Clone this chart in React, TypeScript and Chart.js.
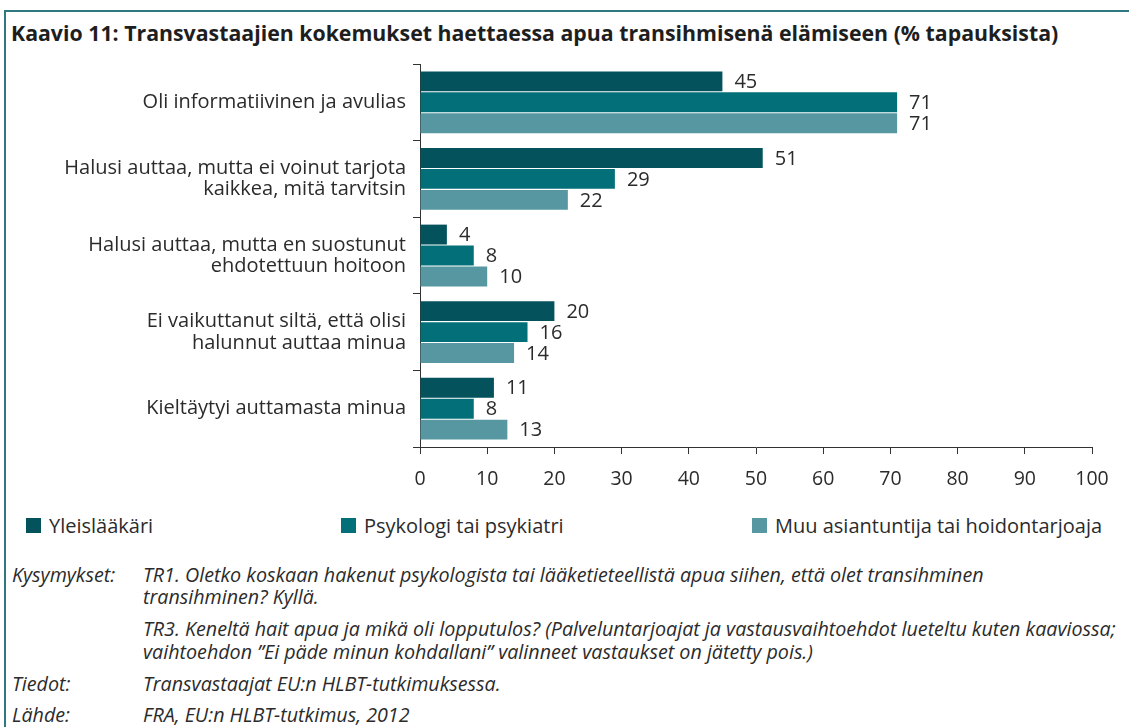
import React, { useEffect, useRef } from "react";
import { Chart, registerables } from "chart.js";

Chart.register(...registerables);

const categories: (string | string[])[] = [
  "Oli informatiivinen ja avulias",
  ["Halusi auttaa, mutta ei voinut tarjota", "kaikkea, mitä tarvitsin"],
  ["Halusi auttaa, mutta en suostunut", "ehdotettuun hoitoon"],
  ["Ei vaikuttanut siltä, että olisi", "halunnut auttaa minua"],
  "Kieltäytyi auttamasta minua",
];
const seriesNames = ["Yleislääkäri", "Psykologi tai psykiatri", "Muu asiantuntija tai hoidontarjoaja"];
const yleislaakari = [45, 51, 4, 20, 11];
const psykologi = [71, 29, 8, 16, 8];
const muu = [71, 22, 10, 14, 13];
const xTicks = [0, 10, 20, 30, 40, 50, 60, 70, 80, 90, 100];
const colors = ["#03525c", "#037079", "#5697a1"];

const title = "Kaavio 11: Transvastaajien kokemukset haettaessa apua transihmisenä elämiseen (% tapauksista)";

const FONT = "'Open Sans', 'Noto Sans', sans-serif";
const TEXT = "#2b2b2b";

const valueLabels = {
  id: "valueLabels",
  afterDatasetsDraw(chart: any) {
    const ctx = chart.ctx;
    ctx.save();
    ctx.font = `20px ${FONT}`;
    ctx.fillStyle = TEXT;
    ctx.textAlign = "left";
    ctx.textBaseline = "middle";
    chart.data.datasets.forEach((ds: any, i: number) => {
      const meta = chart.getDatasetMeta(i);
      meta.data.forEach((bar: any, j: number) => {
        ctx.fillText(String(ds.data[j]), bar.x + 12, bar.y + 1);
      });
    });
    ctx.restore();
  },
};

export default function App() {
  const ref = useRef<HTMLCanvasElement | null>(null);
  useEffect(() => {
    if (!ref.current) return;
    const data = [yleislaakari, psykologi, muu];
    const chart = new Chart(ref.current, {
      type: "bar",
      data: {
        labels: categories,
        datasets: seriesNames.map((name, i) => ({
          label: name,
          data: data[i],
          backgroundColor: colors[i],
          borderWidth: 0,
          barPercentage: 0.95,
          categoryPercentage: 0.82,
        })),
      },
      options: {
        indexAxis: "y",
        responsive: false,
        animation: false,
        devicePixelRatio: 1,
        layout: { padding: { left: 0, top: 64, right: 37, bottom: 0 } },
        plugins: { legend: { display: false }, tooltip: { enabled: false }, title: { display: false } },
        scales: {
          x: {
            min: 0,
            max: 100,
            afterFit: (s: any) => { s.height = 53; },
            afterBuildTicks: (s: any) => { s.ticks = xTicks.map((v) => ({ value: v })); },
            grid: { drawOnChartArea: false, drawTicks: true, tickLength: 7, color: "#333", lineWidth: 1 },
            border: { display: true, color: "#333", width: 1 },
            ticks: { color: TEXT, font: { family: FONT, size: 19.5 }, padding: 14, maxRotation: 0, autoSkip: false },
          },
          y: {
            afterFit: (s: any) => { s.width = 420; },
            grid: { drawOnChartArea: false, drawTicks: true, tickLength: 7, color: "#333", lineWidth: 1, offset: true },
            border: { display: true, color: "#333", width: 1 },
            ticks: { color: TEXT, font: { family: FONT, size: 20, lineHeight: 1.07 }, padding: 7, autoSkip: false },
          },
        },
      },
      plugins: [valueLabels],
    } as any);
    return () => chart.destroy();
  }, []);

  const legendX = [26, 341, 752];
  const noteStyle: React.CSSProperties = {
    position: "absolute",
    fontFamily: FONT,
    fontStyle: "italic",
    fontSize: 19.7,
    color: TEXT,
    whiteSpace: "nowrap",
    lineHeight: "22px",
  };
  const notes: [number, string, string][] = [
    [575, "Kysymykset:", "TR1. Oletko koskaan hakenut psykologista tai lääketieteellistä apua siihen, että olet transihminen"],
    [597, "", "transihminen? Kyllä."],
    [629, "", "TR3. Keneltä hait apua ja mikä oli lopputulos? (Palveluntarjoajat ja vastausvaihtoehdot lueteltu kuten kaaviossa;"],
    [652, "", "vaihtoehdon ”Ei päde minun kohdallani” valinneet vastaukset on jätetty pois.)"],
    [684, "Tiedot:", "Transvastaajat EU:n HLBT-tutkimuksessa."],
    [715, "Lähde:", "FRA, EU:n HLBT-tutkimus, 2012"],
  ];

  return (
    <div style={{ position: "absolute", left: 0, top: 0, width: 1129, height: 727, overflow: "hidden", background: "#fff" }}>
      <div style={{ position: "absolute", left: 4, top: 10, width: 1140, height: 740, borderTop: "2px solid #2f7880", borderLeft: "2px solid #2f7880" }} />
      <div style={{ position: "absolute", left: 11, top: 19, fontFamily: FONT, fontWeight: 700, fontSize: 21.3, lineHeight: "28px", color: "#1e1e1e", whiteSpace: "nowrap" }}>{title}</div>
      <canvas ref={ref} width={1129} height={500} style={{ position: "absolute", left: 0, top: 0, width: 1129, height: 500 }} />
      {seriesNames.map((n, i) => (
        <div key={n} style={{ position: "absolute", left: legendX[i], top: 513, height: 24, display: "flex", alignItems: "center", fontFamily: FONT, fontSize: 20, color: TEXT, whiteSpace: "nowrap" }}>
          <span style={{ display: "inline-block", width: 15, height: 15, background: colors[i], marginRight: 8 }} />
          {n}
        </div>
      ))}
      {notes.map(([y, a, b], i) => (
        <React.Fragment key={i}>
          {a && <div style={{ ...noteStyle, left: 12, top: y - 11 }}>{a}</div>}
          <div style={{ ...noteStyle, left: 143, top: y - 11 }}>{b}</div>
        </React.Fragment>
      ))}
    </div>
  );
}
